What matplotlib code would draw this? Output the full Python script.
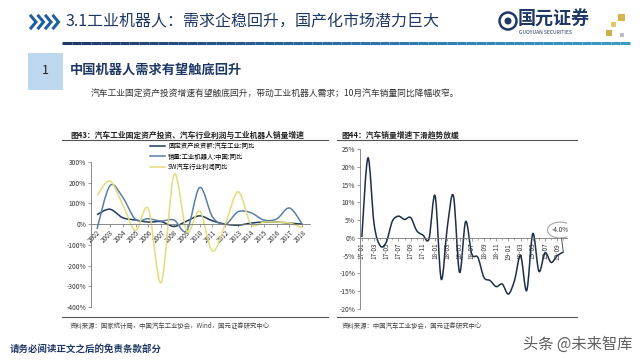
# -*- coding: utf-8 -*-
import numpy as np
import matplotlib as mpl

mpl.use("Agg")
import matplotlib.pyplot as plt
from matplotlib.path import Path
from matplotlib.patches import PathPatch, Rectangle, Ellipse
from matplotlib.collections import LineCollection
from matplotlib.colors import LinearSegmentedColormap

mpl.rcParams.update(
    {
        "font.family": ["Noto Sans CJK SC", "DejaVu Sans"],
        "font.size": 6,
        "axes.linewidth": 0.6,
        "axes.unicode_minus": False,
    }
)

# ---- data: figure 43 (yearly yoy, %) ----
years = [2002, 2003, 2004, 2005, 2006, 2007, 2008, 2009, 2010,
         2011, 2012, 2013, 2014, 2015, 2016, 2017, 2018]
invest_yoy = [46, 72, 31, 20, 10, 12, -11, 15, 40, 16, 0, -5, 5, 10, 10, 5, 0]
robot_yoy = [-23, 185, 130, 23, 26, 15, 20, -31, 177, 35, 0, 60, 55, 20, 25, 78, 0]
profit_yoy = [138, 208, 95, -30, 74, -282, 238, -35, 62, -130, 0, 156, 0, 10, 10, 5, -16]
series_names = ["固定资产投资额:汽车工业:同比", "销量:工业机器人:中国:同比", "SW汽车行业利润同比"]

# ---- data: figure 44 (monthly car sales yoy, %) ----
months = ["17-01", "17-02", "17-03", "17-04", "17-05", "17-06", "17-07", "17-08",
          "17-09", "17-10", "17-11", "17-12", "18-01", "18-02", "18-03", "18-04",
          "18-05", "18-06", "18-07", "18-08", "18-09", "18-10", "18-11", "18-12",
          "19-01", "19-02", "19-03", "19-04", "19-05", "19-06", "19-07", "19-08",
          "19-09", "19-10"]
sales_yoy = [0.2, 22.5, 4.0, -2.2, -1.2, 4.7, 6.1, 5.2, 5.7, 2.0, 0.8, -0.2,
             11.8, -11.6, 3.0, 11.8, -9.7, 4.6, -4.5, -5.5, -11.1, -12.0, -13.7, -13.0,
             -15.8, -12.0, -5.0, -14.8, 1.2, -9.4, -4.2, -6.9, -5.0, -4.0]

NAVY = "#1f3864"


def smooth_path(x, y):
    # Excel-style smoothed line: Catmull-Rom segments as cubic Beziers
    x = np.asarray(x, float)
    y = np.asarray(y, float)
    n = len(x)
    verts = [(x[0], y[0])]
    codes = [Path.MOVETO]
    for i in range(n - 1):
        a = max(i - 1, 0)
        d = min(i + 2, n - 1)
        c1 = (x[i] + (x[i + 1] - x[a]) / 6, y[i] + (y[i + 1] - y[a]) / 6)
        c2 = (x[i + 1] - (x[d] - x[i]) / 6, y[i + 1] - (y[d] - y[i]) / 6)
        verts += [c1, c2, (x[i + 1], y[i + 1])]
        codes += [Path.CURVE4] * 3
    return Path(verts, codes)


def px(x, y):
    return x / 640, 1 - y / 360


def style_axes(ax):
    # spine move first: it resets tick formatting
    ax.spines["bottom"].set_position(("data", 0))
    for s in ("top", "right"):
        ax.spines[s].set_visible(False)
    ax.spines["left"].set_color("#777777")
    ax.spines["bottom"].set_color("#777777")


fig = plt.figure(figsize=(6.4, 3.6), dpi=100, facecolor="white")

# ---- header ----
for k in range(4):
    x0 = 31 + k * 7.5
    xs, ys = zip(px(x0, 16), px(x0 + 5, 22), px(x0, 28))
    fig.add_artist(plt.Line2D(xs, ys, transform=fig.transFigure, color="#1f5f9e", lw=2.2,
                              solid_joinstyle="miter"))
fig.text(*px(66, 22), "3.1工业机器人：需求企稳回升，国产化市场潜力巨大", fontsize=11.5,
         color=NAVY, va="center", ha="left")

cx, cy = px(508, 21)
fig.add_artist(Ellipse((cx, cy), 17 / 640, 17 / 360, transform=fig.transFigure,
                       facecolor="white", edgecolor=NAVY, lw=1.8))
fig.add_artist(Ellipse((cx, cy), 7 / 640, 7 / 360, transform=fig.transFigure,
                       facecolor=NAVY, edgecolor="none"))
fig.text(*px(518, 19), "国元证券", fontsize=13, fontweight="bold", color=NAVY, va="center")
fig.text(*px(519, 33), "GUOYUAN SECURITIES", fontsize=3.6, color=NAVY, va="center")
for (gx, gy, s, c) in [(618, 14, 7, "#d8b54a"), (611, 22, 5, "#e3c96e"),
                       (606, 30, 6, "#cfae47"), (620, 33, 4, "#bfbfbf")]:
    fig.add_artist(Rectangle(px(gx, gy + s), s / 640, s / 360, transform=fig.transFigure,
                             facecolor=c, edgecolor="none"))

cmap = LinearSegmentedColormap.from_list("hdr", [NAVY, "#2d6fa8", "#3a9cc4"])
xs = np.linspace(62, 630, 60)
segs = [[px(xs[i], 43), px(xs[i + 1], 43)] for i in range(len(xs) - 1)]
fig.add_artist(LineCollection(segs, colors=cmap(np.linspace(0, 1, len(segs))),
                              linewidths=2.2, transform=fig.transFigure))

fig.add_artist(Rectangle(px(28, 90), 35 / 640, 37 / 360, transform=fig.transFigure,
                         facecolor="#bdd7ee", edgecolor="none"))
fig.text(*px(45.5, 71), "1", fontsize=9, color="#222222", ha="center", va="center")
fig.text(*px(70, 70), "中国机器人需求有望触底回升", fontsize=9.5, fontweight="bold",
         color=NAVY, va="center")
fig.text(*px(91, 93), "汽车工业固定资产投资增速有望触底回升，带动工业机器人需求；10月汽车销量同比降幅收窄。",
         fontsize=6.3, color="#333333", va="center")

# ---- chart titles, rules, sources ----
fig.text(*px(70, 135), "图43：汽车工业固定资产投资、汽车行业利润与工业机器人销量增速",
         fontsize=5.6, fontweight="bold", color="#222222", va="center")
fig.text(*px(341, 135), "图44：汽车销量增速下滑趋势放缓",
         fontsize=5.6, fontweight="bold", color="#222222", va="center")
for (x0, x1) in [(62, 328), (337, 577)]:
    for yy in (140, 317):
        a, b = px(x0, yy), px(x1, yy)
        fig.add_artist(plt.Line2D([a[0], b[0]], [a[1], b[1]], transform=fig.transFigure,
                                  color="#555555", lw=0.8))
fig.text(*px(70, 326), "资料来源：国家统计局，中国汽车工业协会，Wind，国元证券研究中心",
         fontsize=4.6, color="#444444", va="center")
fig.text(*px(342, 326), "资料来源：中国汽车工业协会，国元证券研究中心",
         fontsize=4.6, color="#444444", va="center")

fig.text(*px(10, 349), "请务必阅读正文之后的免责条款部分", fontsize=6.8, fontweight="bold",
         color=NAVY, va="center")
fig.text(*px(632, 344), "头条 @未来智库", fontsize=11, color="#444444", ha="right",
         va="center", alpha=0.85)

# ---- figure 43 ----
ax1 = fig.add_axes([91 / 640, 1 - 307 / 360, 219 / 640, 145 / 360])
style_axes(ax1)
colors1 = ["#1f3a5c", "#5b7ea4", "#e3dc7a"]
for vals, col in zip([invest_yoy, robot_yoy, profit_yoy], colors1):
    ax1.add_patch(PathPatch(smooth_path(years, vals), fill=False, edgecolor=col, lw=1.1,
                            zorder=2))
ax1.set_xlim(2001.53, 2018.6)
ax1.set_ylim(-400, 300)
ax1.set_yticks(range(-400, 301, 100))
ax1.set_yticklabels([f"{v}%" for v in range(-400, 301, 100)], fontsize=4.8, color="#333333")
ax1.set_xticks(years)
ax1.set_xticklabels([str(y) for y in years], rotation=45, ha="right", fontsize=4.6,
                    color="#333333", rotation_mode="anchor")
ax1.tick_params(axis="both", length=2, width=0.5, color="#777777", pad=1.5)
handles = [plt.Line2D([], [], color=c, lw=1.1) for c in colors1]
ax1.legend(handles, series_names, loc="upper left", bbox_to_anchor=(0.27, 1.135),
           frameon=False, fontsize=4.6, handlelength=2.4, labelspacing=0.35,
           handletextpad=0.4, borderaxespad=0, borderpad=0)

# ---- figure 44 ----
ax2 = fig.add_axes([360 / 640, 1 - 309 / 360, 207 / 640, 160 / 360])
style_axes(ax2)
idx = np.arange(len(months))
ax2.add_patch(PathPatch(smooth_path(idx, sales_yoy), fill=False, edgecolor="#1d2e48",
                        lw=1.1, zorder=2))
ax2.set_xlim(-0.3, 33.6)
ax2.set_ylim(-20, 25)
ax2.set_yticks(range(-20, 26, 5))
ax2.set_yticklabels([f"{v}%" for v in range(-20, 26, 5)], fontsize=4.8, color="#333333")
ax2.set_xticks(idx[::2])
ax2.set_xticklabels(months[::2], rotation=90, fontsize=4.6, color="#333333")
ax2.set_xticks(idx, minor=True)
ax2.tick_params(axis="both", length=2, width=0.5, color="#777777", pad=1.5)
ax2.tick_params(axis="x", which="minor", length=1.5, width=0.4, color="#777777")

last_x, last_y = idx[-1], sales_yoy[-1]
ecx, ecy = last_x - 0.5, last_y + 6.2
ax2.add_patch(Ellipse((ecx, ecy), 4.2, 4.5, facecolor="white", edgecolor="#9a9a9a",
                      lw=0.7, zorder=3))
ax2.text(ecx, ecy, f"{last_y:.1f}%", fontsize=4.6, ha="center", va="center",
         color="#333333", zorder=4)
ax2.plot([ecx + 0.2, last_x], [ecy - 2.25, last_y], color="#555555", lw=0.7, zorder=3)

fig.savefig("out.png", dpi=100, facecolor="white")
